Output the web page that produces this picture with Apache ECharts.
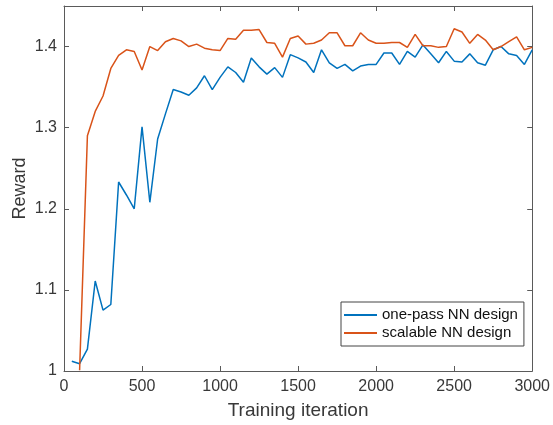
<!DOCTYPE html>
<html>
<head>
<meta charset="utf-8">
<script src="https://cdn.jsdelivr.net/npm/echarts@6/dist/echarts.min.js"></script>
<style>
html, body { margin: 0; padding: 0; background: #fff; }
#chart { width: 553px; height: 425px; }
</style>
</head>
<body>
<div id="chart"></div>
<script>
// training iterations (x)
var aIter = [50, 100, 150, 200, 250, 300, 350, 400, 450, 500,
    550, 600, 650, 700, 750, 800, 850, 900, 950, 1000,
    1050, 1100, 1150, 1200, 1250, 1300, 1350, 1400, 1450, 1500,
    1550, 1600, 1650, 1700, 1750, 1800, 1850, 1900, 1950, 2000,
    2050, 2100, 2150, 2200, 2250, 2300, 2350, 2400, 2450, 2500,
    2550, 2600, 2650, 2700, 2750, 2800, 2850, 2900, 2950, 3000];

// one-pass NN design
var aOnePass = [1.012, 1.009, 1.027, 1.111, 1.075, 1.082, 1.233, 1.217, 1.200, 1.301,
    1.208, 1.286, 1.317, 1.347, 1.344, 1.340, 1.349, 1.364, 1.347, 1.362,
    1.375, 1.368, 1.356, 1.386, 1.375, 1.366, 1.374, 1.362, 1.390, 1.386,
    1.381, 1.368, 1.396, 1.380, 1.373, 1.378, 1.370, 1.376, 1.378, 1.378,
    1.392, 1.392, 1.378, 1.394, 1.387, 1.402, 1.391, 1.380, 1.394, 1.382,
    1.381, 1.391, 1.380, 1.377, 1.396, 1.400, 1.391, 1.389, 1.378, 1.396];

// scalable NN design (no value at 50)
var aScalable = [null, 1.001, 1.290, 1.320, 1.339, 1.373, 1.389, 1.396, 1.394, 1.371,
    1.400, 1.395, 1.406, 1.410, 1.407, 1.400, 1.403, 1.398, 1.396, 1.395,
    1.410, 1.409, 1.420, 1.420, 1.421, 1.405, 1.404, 1.387, 1.410, 1.413,
    1.403, 1.404, 1.408, 1.417, 1.417, 1.401, 1.401, 1.417, 1.408, 1.404,
    1.404, 1.405, 1.405, 1.399, 1.415, 1.401, 1.401, 1.399, 1.400, 1.422,
    1.418, 1.404, 1.415, 1.408, 1.396, 1.400, 1.406, 1.412, 1.396, 1.399];

var aXTicks = [0, 3000, 500];      // min, max, interval
var aYTicks = [1, 1.45, 0.1];

function Pairs(aY) {
    var aOut = [];
    for (var i = 0; i < aIter.length; i++) {
        aOut.push([aIter[i], aY[i]]);
    }
    return aOut;
}

var sFont = "'Liberation Sans', Arial, sans-serif";
var sText = '#383838';
var sAxis = '#5a5a5a';

function XAxis(sPos, bLabels) {
    return {
        type: 'value', position: sPos,
        min: aXTicks[0], max: aXTicks[1], interval: aXTicks[2],
        name: bLabels ? 'Training iteration' : '',
        nameLocation: 'middle', nameGap: 30,
        nameTextStyle: {fontFamily: sFont, fontSize: 19, color: sText},
        axisLine: {show: true, onZero: false, lineStyle: {color: sAxis, width: 1}},
        axisTick: {show: true, inside: true, length: 5, lineStyle: {color: sAxis}},
        axisLabel: {
            show: bLabels, margin: 8, fontFamily: sFont, fontSize: 16, color: sText,
            formatter: function (v) { return String(v); }
        },
        splitLine: {show: false}
    };
}

function YAxis(sPos, bLabels) {
    return {
        type: 'value', position: sPos,
        min: aYTicks[0], max: aYTicks[1], interval: aYTicks[2],
        name: bLabels ? 'Reward' : '',
        nameLocation: 'middle', nameGap: 35, nameRotate: 90,
        nameMoveOverlap: false,
        nameTextStyle: {fontFamily: sFont, fontSize: 18, color: sText},
        axisLine: {show: true, onZero: false, lineStyle: {color: sAxis, width: 1}},
        axisTick: {show: true, inside: true, length: 5, lineStyle: {color: sAxis}},
        axisLabel: {show: bLabels, margin: 7, showMaxLabel: false, fontFamily: sFont, fontSize: 16, color: sText},
        splitLine: {show: false}
    };
}

var jOption = {
    animation: false,
    backgroundColor: '#fff',
    grid: {left: 64, right: 20, top: 6, bottom: 53},
    legend: {
        orient: 'vertical',
        left: 341, top: 302,
        padding: [4, 6, 4, 3],
        itemGap: 0,
        itemWidth: 33, itemHeight: 2,
        icon: 'rect',
        borderColor: '#444', borderWidth: 1,
        backgroundColor: '#fff',
        textStyle: {fontFamily: sFont, fontSize: 15, color: '#111', lineHeight: 18},
        data: ['one-pass NN design', 'scalable NN design']
    },
    xAxis: [XAxis('bottom', true), XAxis('top', false)],
    yAxis: [YAxis('left', true), YAxis('right', false)],
    series: [
        {
            name: 'one-pass NN design', type: 'line',
            data: Pairs(aOnePass), showSymbol: false, symbol: 'none',
            color: '#0072BD', lineStyle: {width: 1.5, color: '#0072BD'}
        },
        {
            name: 'scalable NN design', type: 'line',
            data: Pairs(aScalable), showSymbol: false, symbol: 'none',
            color: '#D95319', lineStyle: {width: 1.5, color: '#D95319'}
        }
    ]
};

var oChart = echarts.init(document.getElementById('chart'));
oChart.setOption(jOption);
</script>
</body>
</html>
